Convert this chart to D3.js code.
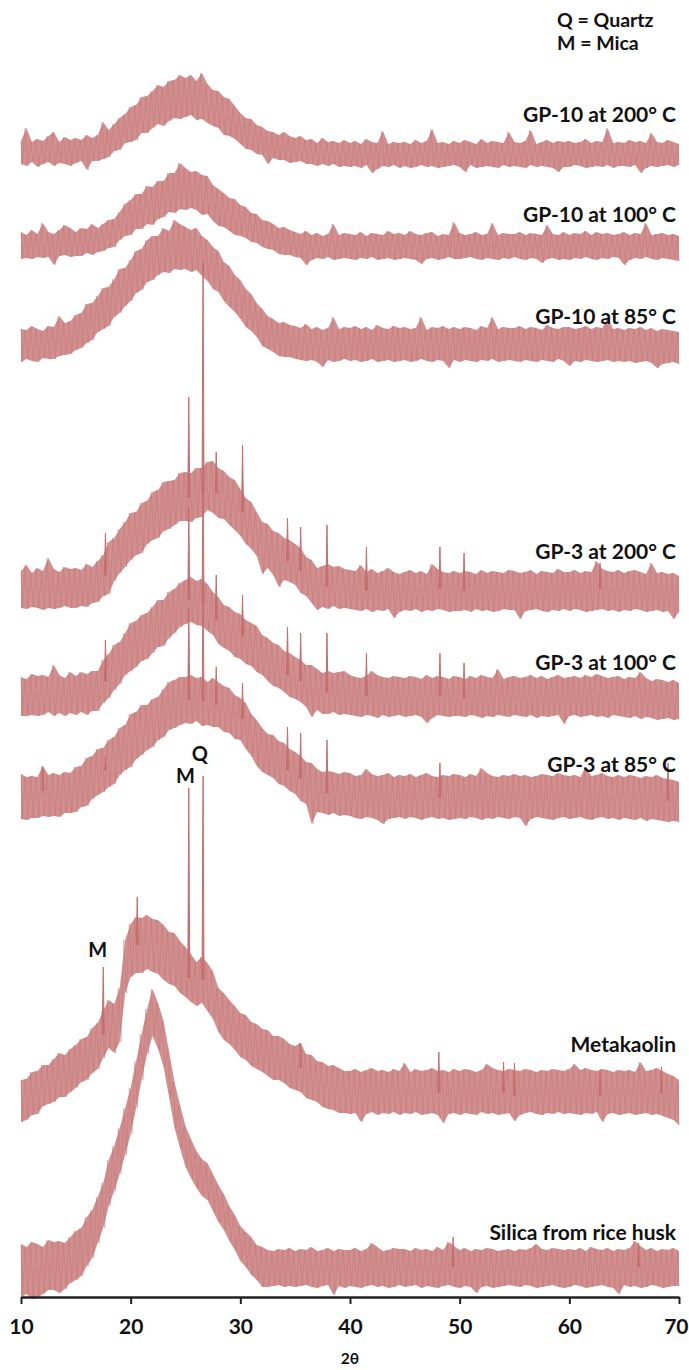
<!DOCTYPE html>
<html>
<head>
<meta charset="utf-8">
<script src="https://cdn.jsdelivr.net/npm/d3@7"></script>
<style>
  html, body { margin: 0; padding: 0; background: #fff; }
  svg { display: block; }
  text { font-family: Lato, "Open Sans", sans-serif; }
</style>
</head>
<body>
<svg id="chart" width="689" height="1370"></svg>
<script>
// ---------------- DATA ----------------
// x grid: 2θ from 10 to 70 in 0.5° bins; for each bin the upper (hi) and lower (lo)
// edge of the noisy trace, in intensity units above the trace's own baseline.
const thetaStart = 10, thetaStep = 0.5;
const xTicks = [10, 20, 30, 40, 50, 60, 70];
const xLabel = "2θ";

const traceNames = ["GP-10 at 200° C", "GP-10 at 100° C", "GP-10 at 85° C",
  "GP-3 at 200° C", "GP-3 at 100° C", "GP-3 at 85° C", "Metakaolin", "Silica from rice husk"];
const traceOffsets = [1142, 1050, 952, 705, 600, 500, 205, 29];

const gp10_200_hi = [14,27,13,16,14,19,23,13,18,15, 17,15,20,17,20,33,25,31,37,41, 48,50,58,59,64,70,68,74,75,80,
  77,80,74,82,71,65,64,58,56,49, 42,37,36,30,28,24,23,20,23,19, 17,19,15,16,12,17,13,14,12,15,
  12,14,11,16,13,12,24,11,13,12, 13,11,15,12,14,26,12,13,11,14, 12,15,13,11,16,12,14,13,12,23,
  13,12,14,25,11,13,15,12,14,13, 14,12,13,16,12,14,13,27,12,13, 12,15,13,14,12,22,13,12,15,13, 11];
const gp10_200_lo = [-9,-11,-7,-12,-9,-7,-11,-8,-9,-11, -8,-6,-15,-6,-6,-4,-2,4,5,12, 13,15,22,22,27,31,29,34,37,36,
  38,40,35,36,32,29,27,20,19,16, 11,6,5,1,0,-9,-3,-5,-5,-8, -7,-6,-9,-9,-11,-9,-11,-9,-12,-11,
  -12,-11,-13,-10,-18,-14,-11,-12,-10,-13, -11,-13,-12,-10,-12,-11,-13,-12,-11,-10, -12,-17,-10,-13,-12,-11,-12,-13,-10,-12,
  -11,-12,-13,-10,-12,-11,-12,-13,-17,-12, -12,-10,-11,-13,-12,-11,-12,-10,-13,-11, -11,-12,-10,-18,-13,-11,-12,-11,-10,-12, -10];

const gp10_100_hi = [15,12,17,13,24,15,13,17,22,19, 15,19,18,23,19,23,27,28,35,43, 47,53,53,61,60,66,66,74,74,84,
  79,75,76,72,71,62,58,54,49,48, 42,40,34,33,27,26,23,19,20,17, 15,13,16,12,14,11,13,23,12,14,
  13,12,15,11,14,13,12,16,13,14, 12,16,13,12,14,15,11,13,12,25, 14,12,13,15,12,13,24,12,14,13,
  13,15,12,14,13,12,22,13,12,15, 12,14,13,16,12,15,13,14,12,13, 15,12,14,13,24,12,13,14,12,13, 11];
const gp10_100_lo = [-12,-11,-12,-10,-11,-10,-18,-9,-8,-10, -9,-9,-6,-8,-5,-4,-1,0,7,11, 12,18,18,23,22,28,30,35,34,38,
  37,39,37,32,33,26,21,20,16,12, 11,9,5,4,0,-2,-3,-7,-8,-8, -10,-11,-18,-13,-11,-12,-10,-13,-12,-11,
  -12,-13,-11,-12,-10,-13,-12,-11,-13,-12, -11,-12,-13,-17,-12,-11,-13,-12,-10,-12, -12,-11,-10,-12,-13,-11,-12,-13,-11,-12,
  -10,-12,-13,-11,-12,-16,-12,-11,-13,-12, -13,-11,-12,-10,-12,-13,-11,-12,-10,-11, -18,-13,-11,-12,-10,-12,-13,-11,-12,-13, -14];

const gp10_85_hi = [16,15,19,16,14,19,18,29,22,24, 30,32,41,42,49,57,58,66,76,77, 85,94,96,105,109,109,117,114,125,121,
  118,115,117,109,105,98,94,83,79,70, 65,56,51,42,36,29,26,22,23,20, 19,17,21,16,18,15,17,28,16,18,
  17,19,16,18,15,20,17,16,19,17, 18,16,17,28,15,18,17,19,16,18, 16,18,17,15,19,17,28,16,18,17,
  17,19,16,18,17,15,20,17,16,18, 18,16,17,19,16,18,17,27,16,17, 15,17,16,18,15,17,14,16,15,14, 13];
const gp10_85_lo = [-17,-14,-16,-17,-13,-14,-14,-11,-10,-9, -5,-3,2,5,13,16,19,28,32,39, 44,52,55,63,65,70,73,72,76,75,
  76,73,75,69,64,56,53,44,38,33, 26,18,14,8,-1,-4,-7,-11,-12,-12, -14,-15,-16,-15,-17,-22,-15,-17,-16,-14,
  -16,-15,-17,-16,-14,-17,-16,-15,-17,-16, -15,-17,-16,-14,-16,-17,-15,-16,-23,-15, -17,-15,-16,-17,-15,-16,-14,-17,-16,-15,
  -16,-17,-15,-16,-17,-15,-16,-17,-14,-16, -21,-16,-17,-15,-16,-17,-16,-15,-17,-16, -17,-16,-18,-17,-16,-18,-23,-19,-18,-17, -19];

const gp3_200_hi = [21,27,19,24,21,34,23,20,25,23, 24,22,28,25,31,37,50,54,63,70, 79,80,89,91,100,102,110,111,112,119,
  120,119,124,124,130,131,124,121,115,112, 103,94,90,80,70,68,61,59,54,52, 48,44,35,32,24,26,28,25,26,23,
  22,21,27,20,23,19,21,24,20,18, 20,22,19,21,18,28,23,20,19,21, 19,21,20,18,22,19,21,20,19,22,
  21,19,20,22,18,21,20,19,23,20, 20,22,19,21,20,31,23,21,20,22, 19,21,22,20,18,29,19,20,18,19, 16];
const gp3_200_lo = [-16,-17,-15,-16,-18,-16,-17,-16,-14,-16, -16,-14,-15,-11,-10,-4,-2,11,19,25, 32,37,39,48,52,54,61,63,67,71,
  71,70,74,75,82,79,74,73,67,62, 56,48,43,36,18,24,17,5,12,10, 7,-1,-4,-11,-18,-15,-17,-14,-17,-16,
  -17,-18,-19,-17,-20,-18,-19,-17,-26,-20, -18,-19,-17,-20,-18,-19,-17,-18,-20,-19, -19,-18,-20,-17,-19,-18,-20,-19,-17,-18,
  -18,-27,-19,-18,-17,-19,-20,-18,-19,-17, -19,-17,-18,-20,-19,-18,-17,-19,-18,-20, -18,-19,-17,-18,-20,-19,-18,-20,-19,-27, -20];

const gp3_100_hi = [20,18,23,21,22,20,32,22,19,25, 21,25,23,26,26,37,43,52,55,64, 74,76,82,84,90,97,97,105,108,114,
  117,120,116,118,113,105,100,92,90,85, 83,77,74,71,62,59,54,52,46,44, 40,37,32,32,28,24,26,24,25,26,
  22,20,19,21,26,22,20,19,21,20, 19,21,20,18,22,19,21,20,18,21, 20,18,21,19,22,20,19,28,18,20,
  21,19,20,22,19,21,18,20,22,19, 20,21,19,22,20,23,21,19,20,21, 18,20,19,25,19,16,18,17,15,17, 14];
const gp3_100_lo = [-19,-19,-18,-19,-18,-15,-19,-16,-19,-16, -18,-15,-18,-14,-14,-6,-1,7,13,22, 26,30,36,38,44,50,51,59,64,70,
  73,75,72,71,66,62,53,49,46,40, 38,33,31,25,22,16,11,9,5,0, -2,-5,-10,-20,-13,-17,-17,-15,-18,-17,
  -18,-19,-20,-18,-19,-21,-18,-20,-19,-18, -20,-19,-18,-20,-26,-21,-18,-19,-20,-19, -19,-20,-18,-19,-21,-19,-20,-18,-19,-20,
  -18,-19,-20,-18,-21,-19,-20,-19,-18,-27, -19,-18,-20,-19,-18,-20,-19,-21,-18,-19, -20,-21,-19,-22,-20,-21,-23,-22,-21,-23, -22];

const gp3_85_hi = [23,20,21,20,31,22,24,22,25,24, 30,31,39,41,48,49,57,60,69,72, 83,85,92,92,98,100,108,115,117,120,
  120,122,119,120,115,119,115,111,109,102, 99,94,83,77,69,63,62,56,54,48, 45,41,35,34,28,25,26,25,23,25,
  24,21,22,28,23,21,22,24,20,22, 21,23,20,22,24,21,20,22,21,23, 22,20,23,21,29,24,21,20,22,21,
  23,21,22,20,21,23,22,21,24,22, 21,22,20,30,21,22,24,21,20,22, 20,22,21,19,21,20,22,19,18,17, 15];
const gp3_85_lo = [-22,-23,-21,-21,-19,-20,-19,-20,-16,-16, -15,-10,-9,-2,2,5,10,13,22,27, 30,38,42,47,50,57,60,67,69,72,
  74,73,76,71,72,70,70,65,64,58, 57,48,41,31,25,22,19,13,11,6, 3,-4,-7,-27,-15,-16,-18,-16,-19,-18,
  -19,-21,-22,-20,-21,-23,-27,-22,-21,-20, -22,-20,-21,-23,-21,-20,-22,-21,-23,-22, -21,-22,-20,-21,-23,-21,-22,-20,-21,-22,
  -20,-21,-29,-22,-20,-21,-22,-23,-21,-20, -22,-21,-20,-22,-23,-21,-20,-22,-21,-23, -21,-22,-23,-21,-24,-22,-23,-24,-25,-24, -25];

const metakaolin_hi = [12,13,20,21,27,27,33,39,37,43, 47,53,55,64,69,81,92,88,104,152, 168,175,174,177,173,172,167,160,159,151,
  145,138,130,135,129,121,104,99,92,86, 79,77,70,68,63,62,56,56,53,48, 46,49,38,37,31,30,26,27,24,21,
  21,23,20,22,24,21,22,20,23,21, 29,20,23,21,22,24,21,22,20,23, 21,23,22,20,22,28,24,22,21,23,
  22,21,23,22,20,22,21,23,22,21, 23,28,22,24,22,21,23,22,20,22, 21,22,20,30,21,22,24,21,18,16, 12];
const metakaolin_lo = [-30,-28,-23,-22,-14,-12,-10,-5,-5,0, 4,10,12,19,23,34,44,39,50,99, 115,119,119,123,120,118,112,108,106,99,
  95,90,86,89,81,73,60,52,48,42, 35,32,26,23,20,16,12,12,9,4, 2,0,-6,-8,-10,-15,-17,-18,-21,-21,
  -22,-21,-30,-22,-20,-23,-21,-22,-20,-23, -21,-22,-20,-23,-22,-21,-23,-31,-22,-21, -23,-21,-22,-23,-20,-22,-21,-23,-22,-21,
  -29,-23,-21,-20,-22,-23,-21,-22,-20,-22, -21,-22,-23,-21,-22,-20,-30,-22,-21,-23, -22,-21,-23,-22,-21,-23,-22,-24,-26,-28, -33];

const silica_hi = [24,21,26,24,21,28,26,27,25,31, 37,40,51,58,71,85,108,122,140,160, 180,207,234,259,279,265,247,217,186,163,
  142,129,117,109,105,94,83,74,62,53, 42,36,31,23,21,18,17,19,18,20, 17,19,18,21,17,18,20,17,19,18,
  18,20,17,19,25,21,17,18,20,19, 19,17,20,18,19,17,21,18,26,22, 18,20,17,19,18,20,19,17,18,19,
  17,19,18,20,24,19,18,20,19,18, 19,18,20,17,21,19,18,20,17,19, 18,20,27,22,18,20,17,19,18,20, 17];
const silica_lo = [-29,-26,-31,-30,-26,-22,-22,-25,-21,-15, -12,-8,2,10,25,40,62,77,94,113, 134,160,188,214,232,219,201,171,140,120,
  101,90,80,72,68,57,46,38,27,18, 7,1,-7,-12,-19,-19,-18,-17,-19,-18, -19,-18,-17,-19,-20,-18,-17,-27,-18,-20,
  -18,-19,-20,-18,-17,-19,-18,-20,-19,-17, -19,-18,-17,-20,-18,-19,-20,-18,-17,-19, -20,-18,-19,-25,-19,-18,-20,-19,-18,-17,
  -18,-19,-17,-18,-20,-19,-18,-17,-19,-20, -19,-17,-18,-20,-19,-18,-17,-19,-20,-26, -17,-19,-18,-20,-19,-17,-18,-20,-19,-18, -18];

// sharp reflections: [2θ, top intensity above trace baseline]
const gp10_200_peaks = [];
const gp10_100_peaks = [];
const gp10_85_peaks = [];
const gp3_200_peaks = [[17.7,59],[25.3,195],[26.6,330],[27.8,140],[30.2,147],[34.3,74],[35.5,65],[37.9,67],[41.5,45],[48.2,45],[50.4,39],[62.8,29]];
const gp3_100_peaks = [[17.7,57],[25.3,190],[26.6,215],[27.8,122],[30.2,102],[34.3,70],[35.5,64],[37.9,64],[41.5,44],[48.2,44],[50.4,34]];
const gp3_85_peaks = [[12.0,30],[17.7,40],[25.3,190],[26.6,200],[27.8,130],[30.2,114],[34.3,70],[35.5,64],[37.9,57],[48.2,34],[69.0,34]];
const metakaolin_peaks = [[17.5,125],[20.6,195],[25.3,304],[26.6,316],[35.5,49],[48.1,40],[54.0,30],[55.0,29],[62.8,22],[68.4,25]];
const silica_peaks = [[49.4,31],[66.3,25]];

// phase annotations: [text, 2θ, intensity]
const annotations = [["M", 17.0, 340], ["M", 25.0, 514], ["Q", 26.3, 536]];
const legendLines = ["Q = Quartz", "M = Mica"];

// ---------------- DRAW ----------------
const traces = [
  {hi: gp10_200_hi, lo: gp10_200_lo, peaks: gp10_200_peaks},
  {hi: gp10_100_hi, lo: gp10_100_lo, peaks: gp10_100_peaks},
  {hi: gp10_85_hi, lo: gp10_85_lo, peaks: gp10_85_peaks},
  {hi: gp3_200_hi, lo: gp3_200_lo, peaks: gp3_200_peaks},
  {hi: gp3_100_hi, lo: gp3_100_lo, peaks: gp3_100_peaks},
  {hi: gp3_85_hi, lo: gp3_85_lo, peaks: gp3_85_peaks},
  {hi: metakaolin_hi, lo: metakaolin_lo, peaks: metakaolin_peaks},
  {hi: silica_hi, lo: silica_lo, peaks: silica_peaks}
].map((t, i) => ({...t, name: traceNames[i], off: traceOffsets[i]}));

const svg = d3.select("#chart");
const x = d3.scaleLinear().domain([10, 70]).range([21, 679]);
const y = d3.scaleLinear().domain([0, 1297]).range([1297, 0]);
const lineColor = "#c46f6f";
const clampT = t => Math.max(10, Math.min(70, t));

const g = svg.append("g");

traces.forEach(t => {
  const bins = t.hi.map((h, k) => ({th: thetaStart + k * thetaStep, hi: t.off + h, lo: t.off + t.lo[k]}));
  // filled envelope
  g.append("path")
    .datum(bins)
    .attr("fill", "#cd8585")
    .attr("fill-opacity", 0.92)
    .attr("d", d3.area().x(d => x(d.th)).y0(d => y(d.lo)).y1(d => y(d.hi)));
  // zigzag noise line
  const pts = [];
  bins.forEach(d => {
    pts.push([clampT(d.th - thetaStep / 4), d.hi]);
    pts.push([clampT(d.th + thetaStep / 4), d.lo]);
  });
  g.append("path")
    .datum(pts)
    .attr("fill", "none")
    .attr("stroke", "#c27272")
    .attr("stroke-opacity", 0.6)
    .attr("stroke-width", 0.7)
    .attr("d", d3.line().x(d => x(d[0])).y(d => y(d[1])));
  // sharp peaks
  t.peaks.forEach(p => {
    const k = Math.round((p[0] - thetaStart) / thetaStep);
    const mid = t.off + (t.hi[k] + t.lo[k]) / 2;
    g.append("path")
      .datum([[p[0] - 0.09, mid], [p[0], t.off + p[1]], [p[0] + 0.09, mid]])
      .attr("fill", lineColor)
      .attr("stroke", lineColor)
      .attr("stroke-width", 1)
      .attr("d", d3.line().x(d => x(d[0])).y(d => y(d[1])));
  });
});

// labels
const labelBaselineOffsets = [34, 26, 22, 34, 28, 26, 41, 29];
traces.forEach((t, i) => {
  svg.append("text")
    .attr("x", 676)
    .attr("y", y(t.off + labelBaselineOffsets[i]) + 1)
    .attr("text-anchor", "end")
    .attr("font-size", 21)
    .attr("font-weight", 700)
    .attr("fill", "#111")
    .text(t.name);
});

annotations.forEach(a => {
  svg.append("text")
    .attr("x", x(a[1]))
    .attr("y", y(a[2]))
    .attr("text-anchor", "middle")
    .attr("font-size", 20)
    .attr("font-weight", 700)
    .attr("fill", "#111")
    .text(a[0]);
});

legendLines.forEach((s, i) => {
  svg.append("text")
    .attr("x", 557)
    .attr("y", 27 + i * 23)
    .attr("font-size", 19.5)
    .attr("font-weight", 700)
    .attr("fill", "#111")
    .text(s);
});

// axis
const axis = d3.axisBottom(x).tickValues(xTicks).tickSize(7).tickSizeOuter(0).tickPadding(15);
const ax = svg.append("g").attr("transform", `translate(0,${y(0)})`).call(axis);
ax.select(".domain").attr("stroke", "#222").attr("stroke-width", 2.4);
ax.selectAll(".tick line").attr("stroke", "#222").attr("stroke-width", 2);
ax.selectAll(".tick text").attr("font-size", 21).attr("font-weight", 700)
  .attr("fill", "#111").style("font-family", "Lato, sans-serif");
// keep the last tick label inside the picture
ax.selectAll(".tick text").filter(d => d === 70).attr("text-anchor", "end").attr("x", 9);

svg.append("text")
  .attr("x", x(40))
  .attr("y", 1364)
  .attr("text-anchor", "middle")
  .attr("font-size", 15.5)
  .attr("font-weight", 700)
  .attr("fill", "#111")
  .text(xLabel);
</script>
</body>
</html>
